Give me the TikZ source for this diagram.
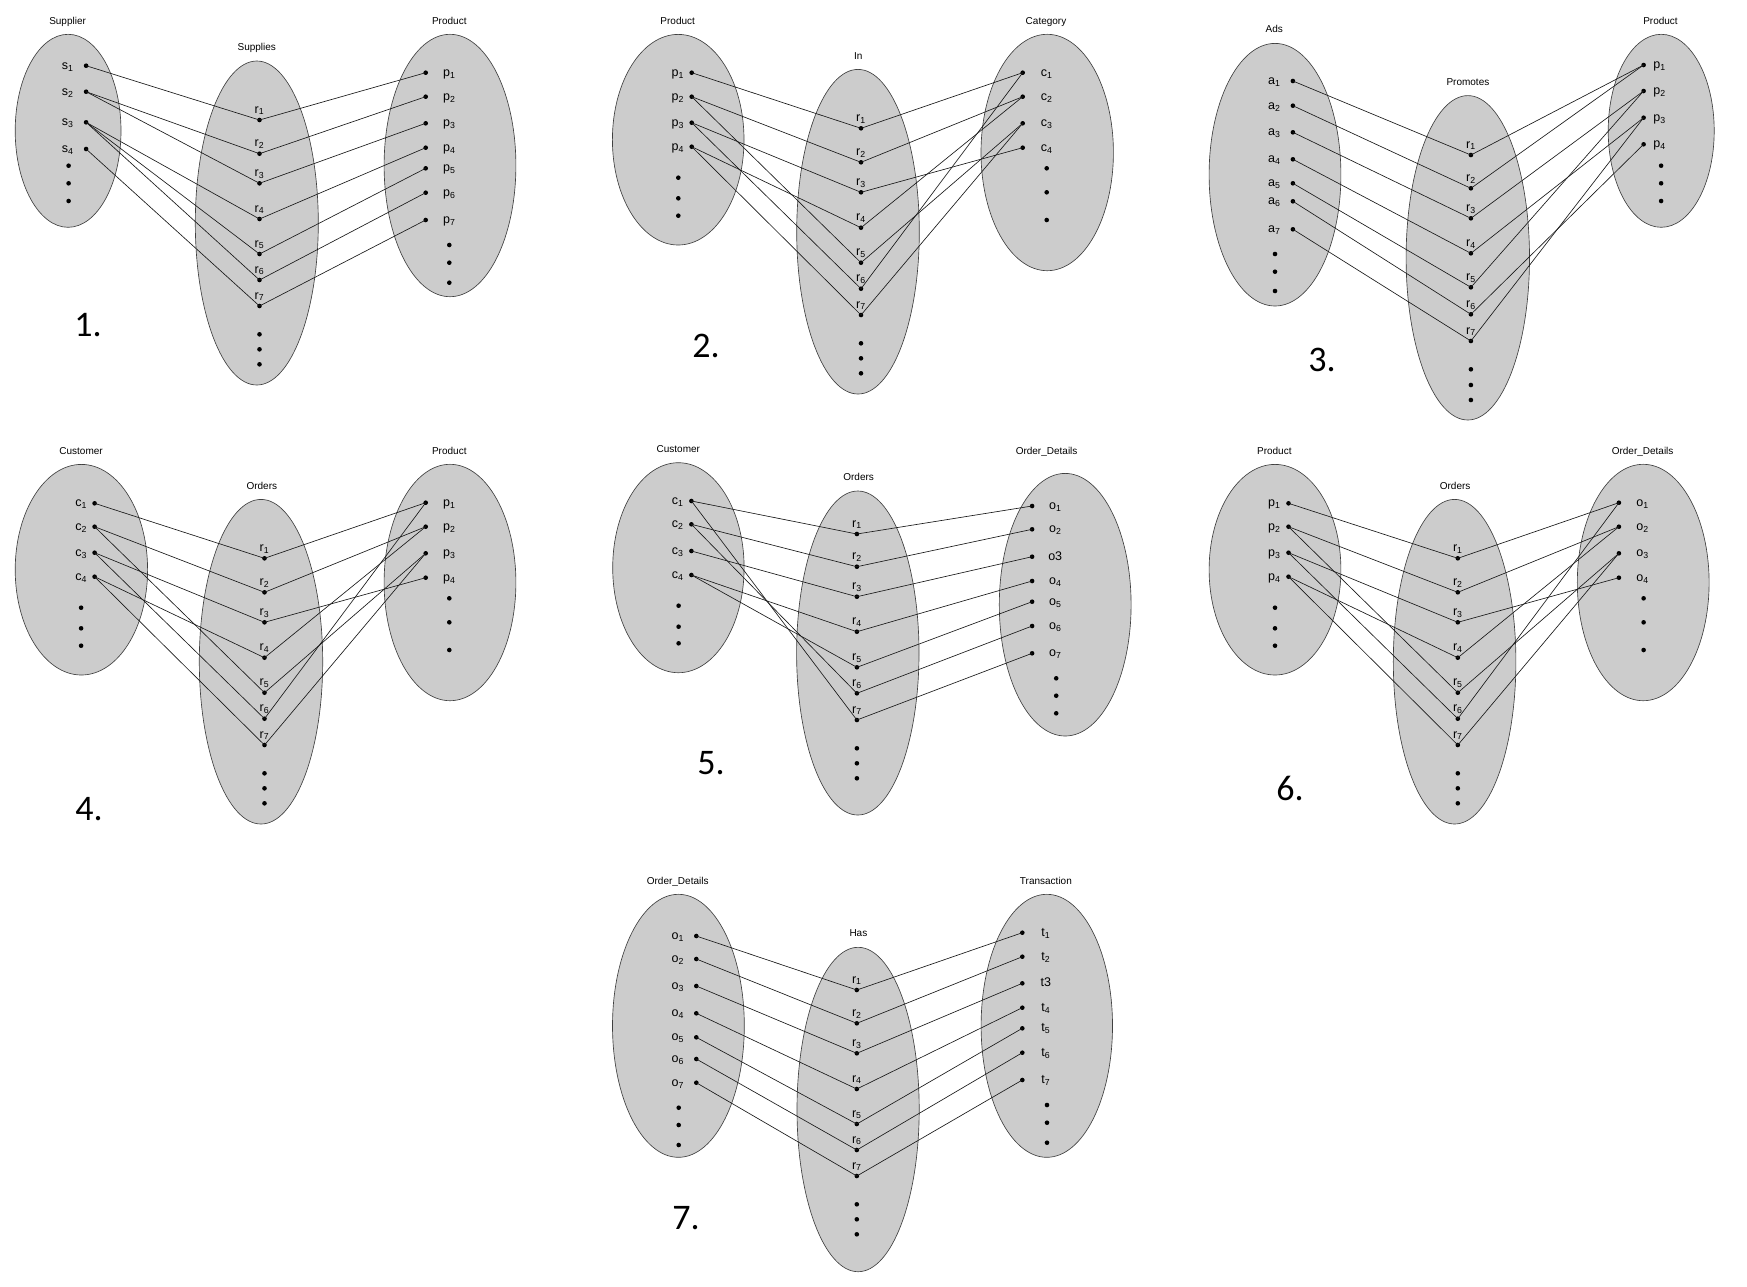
\documentclass[tikz,border=0pt]{standalone}
\usepackage{fontspec}
\setmainfont{Liberation Sans}
\newfontfamily\numfont{Carlito}
\usetikzlibrary{shapes.geometric}
\definecolor{setgray}{RGB}{204,204,204}
\newcommand\sbs[1]{\textsubscript{#1}}
\newcommand\blob[4]{\node[blob,minimum width=#3pt,minimum height=#4pt] (#1) at (#2) {};}
\newcommand\ttl[3]{\node[ttlstyle] (#1) at (#2) {#3};}
\newcommand\lset[4]{\foreach \lbl/\yy [count=\kk] in {#4}{\node[dot] (#1\kk) at (#2,\yy) {};\node[lab] (#1t\kk) at (#3,\yy+3.5) {\lbl};}}
\newcommand\mset[3]{\foreach \yy [count=\kk] in {#3}{\node[dot] (#1\kk) at (#2,\yy) {};\node[lab] (#1t\kk) at (#2,\yy-7) {r\sbs{\kk}};}}
\newcommand\vset[3]{\foreach \yy [count=\kk] in {#3}{\node[dot] (#1\kk) at (#2,\yy) {};}}
\newcommand\links[3]{\foreach \ia/\ib in {#3}{\draw[link] (#1\ia.center) -- (#2\ib.center);}}
\begin{document}
\begin{tikzpicture}[x=1pt,y=-1pt,
  blob/.style={ellipse,draw=black!75,line width=0.65pt,fill=setgray,inner sep=0pt},
  dot/.style={circle,fill=black,inner sep=0pt,minimum size=4.6pt},
  lab/.style={anchor=base,inner sep=0pt,font=\fontsize{12.5}{14}\selectfont},
  ttlstyle/.style={anchor=base,inner sep=0pt,font=\fontsize{10}{12}\selectfont},
  num/.style={anchor=base,inner sep=0pt,font=\numfont\fontsize{36}{40}\selectfont},
  link/.style={draw=black!90,line width=0.65pt}]
\useasboundingbox (0,0) rectangle (1747,1286);

% ---------- Panel 1 ----------
\blob{A-le}{68.1,130.8}{105.8}{193}
\blob{A-me}{256.8,223}{123}{324}
\blob{A-re}{450,165.5}{131.8}{262.4}
\ttl{A-t1}{67.6,24.3}{Supplier}
\ttl{A-t2}{256.8,50.6}{Supplies}
\ttl{A-t3}{449.3,24.3}{Product}
\lset{A-L}{86.1}{67.6}{s\sbs1/65.7,s\sbs2/91.7,s\sbs3/122.3,s\sbs4/149}
\vset{A-LV}{68.6}{165.7,183.3,201}
\mset{A-M}{259.5}{120,153.7,183.3,219,254,280,306}
\vset{A-MV}{259.5}{334.3,349.3,364.3}
\lset{A-R}{425.7}{449.3}{p\sbs1/72.7,p\sbs2/96.7,p\sbs3/123.3,p\sbs4/147.7,p\sbs5/168.3,p\sbs6/192.7,p\sbs7/220}
\vset{A-RV}{449.3}{245,262.7,282.7}
\links{A-L}{A-M}{1/1,2/2,2/3,3/4,3/5,3/6,4/7}
\links{A-M}{A-R}{1/1,2/2,3/3,4/4,5/5,6/6,7/7}
\node[num] (A-n) at (88,336) {1.};

% ---------- Panel 2 ----------
\blob{B-le}{678.2,139.7}{131.6}{210.6}
\blob{B-me}{858,231.7}{122.6}{324.6}
\blob{B-re}{1047.2,152.5}{132.4}{236.4}
\ttl{B-t1}{677.7,24.3}{Product}
\ttl{B-t2}{858.3,59.6}{In}
\ttl{B-t3}{1046,24.3}{Category}
\lset{B-L}{691.7}{677.7}{p\sbs1/72.7,p\sbs2/96.7,p\sbs3/122.7,p\sbs4/146.7}
\vset{B-LV}{678.3}{177.7,198.3,215.7}
\mset{B-M}{861}{128.3,162.3,192.3,227.7,262.7,288.7,315}
\vset{B-MV}{861}{343.3,358.3,373.3}
\lset{B-R}{1022.7}{1046.7}{c\sbs1/72.7,c\sbs2/96.7,c\sbs3/123.3,c\sbs4/147.7}
\vset{B-RV}{1046.7}{168.3,192.3,220}
\links{B-L}{B-M}{1/1,2/2,2/5,3/3,3/6,4/4,4/7}
\links{B-M}{B-R}{1/1,2/2,3/4,4/2,5/3,6/1,7/3}
\node[num] (B-n) at (706,357) {2.};

% ---------- Panel 3 ----------
\blob{C-le}{1275,174.7}{131.8}{262.6}
\blob{C-me}{1467.8,257.8}{123.4}{324.4}
\blob{C-re}{1661.2,130.8}{106}{193}
\ttl{C-t1}{1274.3,32.9}{Ads}
\ttl{C-t2}{1467.9,85.3}{Promotes}
\ttl{C-t3}{1660.5,24.3}{Product}
\lset{C-L}{1292.9}{1274.3}{a\sbs1/81,a\sbs2/105.7,a\sbs3/132.3,a\sbs4/159.3,a\sbs5/183.3,a\sbs6/201.3,a\sbs7/229.3}
\vset{C-LV}{1275}{254,271.7,291}
\mset{C-M}{1470.9}{155,188.3,218.3,253.3,287.3,314.3,341}
\vset{C-MV}{1470.9}{369.3,385,400}
\lset{C-R}{1643.6}{1659.5}{p\sbs1/65,p\sbs2/91,p\sbs3/117.7,p\sbs4/144.3}
\vset{C-RV}{1661.1}{165.7,183.3,201}
\links{C-L}{C-M}{1/1,2/2,3/3,4/4,5/5,6/6,7/7}
\links{C-M}{C-R}{1/1,2/1,3/2,4/3,5/2,6/4,7/3}
\node[num] (C-n) at (1322,371) {3.};

% ---------- Panel 4 ----------
\blob{D-le}{81.4,569.7}{132.4}{210.6}
\blob{D-me}{261,661.7}{123.4}{324.6}
\blob{D-re}{450,582.5}{131.8}{236.4}
\ttl{D-t1}{81.1,454.3}{Customer}
\ttl{D-t2}{261.8,489.6}{Orders}
\ttl{D-t3}{449.3,454.3}{Product}
\lset{D-L}{94.6}{81.1}{c\sbs1/503.3,c\sbs2/526.7,c\sbs3/552.7,c\sbs4/576.7}
\vset{D-LV}{81.1}{607.7,628.3,645.7}
\mset{D-M}{264.5}{558.3,592.3,622.3,657.7,692.7,718.7,745}
\vset{D-MV}{264.5}{773.3,788.3,803.3}
\lset{D-R}{425.7}{449.3}{p\sbs1/502.7,p\sbs2/526.7,p\sbs3/553.3,p\sbs4/577.7}
\vset{D-RV}{449.3}{598.3,622.3,650}
\links{D-L}{D-M}{1/1,2/2,2/5,3/3,3/6,4/4,4/7}
\links{D-M}{D-R}{1/1,2/2,3/4,4/2,5/3,6/1,7/3}
\node[num] (D-n) at (89,820) {4.};

% ---------- Panel 5 ----------
\blob{E-le}{678.4,567.7}{131.4}{210}
\blob{E-me}{857.8,653}{122.4}{324}
\blob{E-re}{1065.2,604.7}{131.8}{262.6}
\ttl{E-t1}{678.3,452.9}{Customer}
\ttl{E-t2}{858.6,480.6}{Orders}
\ttl{E-t3}{1046.6,454.3}{Order\_Details}
\lset{E-L}{691.4}{677.6}{c\sbs1/501,c\sbs2/524.3,c\sbs3/551,c\sbs4/575}
\vset{E-LV}{678.6}{605.7,626.7,643.3}
\mset{E-M}{856.9}{534,566.7,596.7,631.7,667.3,693.3,720}
\vset{E-MV}{856.9}{748.3,763.3,778.3}
\lset{E-R}{1032.1}{1055.2}{o\sbs1/506,o\sbs2/529.3,o3/556.7,o\sbs4/581,o\sbs5/601.7,o\sbs6/626,o\sbs7/653.3}
\vset{E-RV}{1056.2}{678.3,695.7,713.3}
\links{E-L}{E-M}{1/1,1/7,2/2,2/6,3/3,4/4,4/5}
\links{E-M}{E-R}{1/1,2/2,3/3,4/4,5/5,6/6,7/7}
\node[num] (E-n) at (711,774) {5.};

% ---------- Panel 6 ----------
\blob{F-le}{1275,569.7}{131.8}{210.6}
\blob{F-me}{1454.6,661.7}{122.6}{324.6}
\blob{F-re}{1643.2,582.5}{131.8}{236.4}
\ttl{F-t1}{1274.3,454.3}{Product}
\ttl{F-t2}{1455.1,489.6}{Orders}
\ttl{F-t3}{1642.6,454.3}{Order\_Details}
\lset{F-L}{1288.5}{1274.3}{p\sbs1/503.3,p\sbs2/526.7,p\sbs3/552.7,p\sbs4/576.7}
\vset{F-LV}{1275}{607.7,628.3,645.7}
\mset{F-M}{1457.8}{558.3,592.3,622.3,657.7,692.7,718.7,745}
\vset{F-MV}{1457.8}{773.3,788.3,803.3}
\lset{F-R}{1618.9}{1642.6}{o\sbs1/502.7,o\sbs2/526.7,o\sbs3/553.3,o\sbs4/577.7}
\vset{F-RV}{1643.6}{598.3,622.3,650}
\links{F-L}{F-M}{1/1,2/2,2/5,3/3,3/6,4/4,4/7}
\links{F-M}{F-R}{1/1,2/2,3/4,4/2,5/3,6/1,7/3}
\node[num] (F-n) at (1290,800) {6.};

% ---------- Panel 7 ----------
\blob{G-le}{678.4,1025.8}{131.8}{263}
\blob{G-me}{858.1,1109.5}{122.2}{324.4}
\blob{G-re}{1046.8,1025.8}{131.4}{263}
\ttl{G-t1}{677.7,884.3}{Order\_Details}
\ttl{G-t2}{858.4,936.9}{Has}
\ttl{G-t3}{1045.9,884.3}{Transaction}
\lset{G-L}{696.3}{677.7}{o\sbs1/936,o\sbs2/959,o\sbs3/986,o\sbs4/1013.3,o\sbs5/1037.3,o\sbs6/1059,o\sbs7/1082.7}
\vset{G-LV}{678.7}{1107.7,1125,1145}
\mset{G-M}{856.8}{990,1023.3,1053.3,1089,1124,1150,1176}
\vset{G-MV}{856.8}{1204.3,1219.3,1234.3}
\lset{G-R}{1022.3}{1045.9}{t\sbs1/932.7,t\sbs2/956.7,t3/983.3,t\sbs4/1007.7,t\sbs5/1028.3,t\sbs6/1052.7,t\sbs7/1080}
\vset{G-RV}{1047}{1105,1122.7,1142.7}
\links{G-L}{G-M}{1/1,2/2,3/3,4/4,5/5,6/6,7/7}
\links{G-M}{G-R}{1/1,2/2,3/3,4/4,5/5,6/6,7/7}
\node[num] (G-n) at (686,1229) {7.};
\end{tikzpicture}
\end{document}
